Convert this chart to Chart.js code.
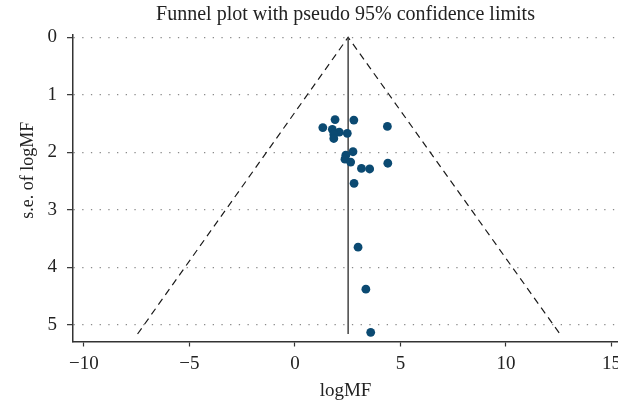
<!DOCTYPE html>
<html>
<head>
<meta charset="utf-8">
<script src="https://cdn.jsdelivr.net/npm/chart.js@4.4.1/dist/chart.umd.min.js"></script>
<style>
  html, body { margin: 0; padding: 0; background: #fff; overflow: hidden; }
  canvas { display: block; }
</style>
</head>
<body>
<canvas id="funnel" width="618" height="408"></canvas>
<script>
// study estimates
var studyLogMF = [1.90, 2.79, 1.32, 1.77, 2.10, 1.84, 1.84, 2.48, 4.38, 2.75, 2.41,
                  2.37, 2.64, 3.15, 3.54, 4.40, 2.80, 2.99, 3.36, 3.59];
var studySE    = [1.43, 1.44, 1.57, 1.60, 1.65, 1.69, 1.76, 1.67, 1.55, 1.99, 2.05,
                  2.12, 2.17, 2.28, 2.29, 2.19, 2.54, 3.65, 4.38, 5.13];

// pooled estimate line and pseudo 95% limits
var pooledX  = [2.52, 2.52];
var pooledSE = [0, 5.16];
var limitX   = [-7.46, 2.52, 12.56];
var limitSE  = [5.16, 0, 5.16];

var xTicks = [-10, -5, 0, 5, 10, 15];
var yTicks = [0, 1, 2, 3, 4, 5];

function pairs(xs, ys) {
  return xs.map(function(x, i) { return {x: x, y: ys[i]}; });
}

var serif = "'Liberation Serif', 'DejaVu Serif', serif";
var axisColor = '#333';

var ctx = document.getElementById('funnel').getContext('2d');

new Chart(ctx, {
  type: 'scatter',
  data: {
    datasets: [
      {
        type: 'scatter',
        data: pairs(studyLogMF, studySE),
        backgroundColor: '#0b4a72',
        borderWidth: 0,
        pointRadius: 4.4,
        order: 0
      },
      {
        type: 'line',
        data: pairs(pooledX, pooledSE),
        borderColor: '#444',
        borderWidth: 1.5,
        pointRadius: 0,
        fill: false,
        order: 1
      },
      {
        type: 'line',
        data: pairs(limitX, limitSE),
        borderColor: '#1a1a1a',
        borderWidth: 1.2,
        borderDash: [7, 5],
        pointRadius: 0,
        fill: false,
        tension: 0,
        order: 2
      }
    ]
  },
  options: {
    responsive: false,
    animation: false,
    // the x axis runs off the right edge in the original, so no auto padding
    layout: { padding: 0, autoPadding: false },
    plugins: {
      legend: { display: false },
      tooltip: { enabled: false },
      title: {
        display: true,
        fullSize: false,
        text: 'Funnel plot with pseudo 95% confidence limits',
        color: '#222',
        font: { family: serif, size: 20, weight: 'normal' },
        padding: { top: 3, bottom: 8 }
      }
    },
    scales: {
      x: {
        type: 'linear',
        min: -10.52,
        max: 15.31,
        afterBuildTicks: function(scale) {
          scale.ticks = xTicks.map(function(v) { return {value: v}; });
        },
        afterFit: function(scale) {
          scale.height = 66.5;
          scale.paddingLeft = 0;
          scale.paddingRight = 0;
        },
        ticks: {
          color: '#222',
          font: { family: serif, size: 19 },
          padding: 6,
          maxRotation: 0,
          callback: function(v) { return String(v).replace('-', '\u2212'); }
        },
        grid: {
          drawOnChartArea: false,
          drawTicks: true,
          tickLength: 5,
          tickColor: axisColor,
          tickWidth: 1.2
        },
        border: { display: true, color: axisColor, width: 1.5 },
        title: {
          display: true,
          text: 'logMF',
          color: '#222',
          font: { family: serif, size: 19 },
          padding: { top: 0, bottom: 6 }
        }
      },
      y: {
        type: 'linear',
        reverse: true,
        min: -0.04,
        max: 5.29,
        afterBuildTicks: function(scale) {
          scale.ticks = yTicks.map(function(v) { return {value: v}; });
        },
        afterFit: function(scale) {
          scale.width = 73;
          scale.paddingTop = 0;
          scale.paddingBottom = 0;
        },
        ticks: {
          color: '#222',
          font: { family: serif, size: 19 },
          padding: 10
        },
        grid: {
          drawOnChartArea: true,
          color: '#8a8a8a',
          lineWidth: 1.3,
          drawTicks: true,
          tickLength: 6,
          tickColor: axisColor,
          tickWidth: 1.2
        },
        border: { display: true, color: axisColor, width: 1.5, dash: [1.3, 7.4] },
        title: {
          display: true,
          // leading spaces nudge the label up the axis like the original
          text: '        s.e. of logMF',
          color: '#222',
          font: { family: serif, size: 18 },
          padding: { top: 17, bottom: 0 }
        }
      }
    }
  }
});
</script>
</body>
</html>
